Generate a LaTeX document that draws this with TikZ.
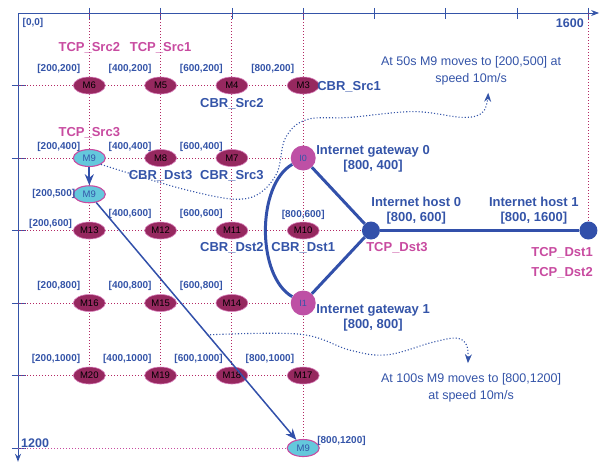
\documentclass[tikz,border=0pt]{standalone}
\usepackage{fontspec}
\setmainfont{Liberation Sans}
\usetikzlibrary{shapes.geometric,arrows.meta}
\begin{document}
\begin{tikzpicture}[>={Stealth[length=8pt, width=6pt]}, x=0.3565pt, y=-0.3625pt,
		mnode/.style={ellipse, fill=plum, draw=tcppink!70, line width=0.6pt, minimum width=32pt, minimum height=17pt, inner sep=0pt, font=\fontsize{9.5}{10}\selectfont},
		mobile/.style={mnode, fill=mobcyan, draw=tcppink, line width=1.1pt, text=axisblue},
		gateway/.style={circle, fill=gwpink, minimum size=25pt, inner sep=0pt, text=axisblue, font=\fontsize{9}{10}\selectfont},
		host/.style={circle, fill=linkblue, minimum size=18pt, inner sep=0pt},
		coordtxt/.style={text=axisblue, font=\bfseries\fontsize{10}{11}\selectfont, inner sep=0pt},
		cbrtxt/.style={text=axisblue, font=\bfseries\fontsize{13}{14}\selectfont, inner sep=0pt},
		tcptxt/.style={cbrtxt, text=tcppink},
		infotxt/.style={cbrtxt, align=center},
		msgtxt/.style={text=axisblue, font=\fontsize{12.5}{17}\selectfont, align=center, inner sep=0pt},
		gridline/.style={gridred, dotted, line width=1pt},
		msgpath/.style={axisblue, dotted, line width=1.1pt, -{Stealth[length=9pt, width=7pt]}},
		moveline/.style={linkblue, -{Stealth[length=11pt, width=9pt]}},
		link/.style={linkblue, line width=3pt}]
	\definecolor{axisblue}{RGB}{52, 84, 168}
	\definecolor{linkblue}{RGB}{50, 80, 170}
	\definecolor{plum}{RGB}{150, 40, 95}
	\definecolor{gridred}{RGB}{180, 40, 100}
	\definecolor{tcppink}{RGB}{200, 75, 160}
	\definecolor{gwpink}{RGB}{190, 80, 165}
	\definecolor{mobcyan}{RGB}{100, 200, 220}
	\useasboundingbox (-50.5,-35.9) rectangle (1632.5,1244);
	% axes
	\draw[->, axisblue, line width=1pt] (0,0) -- (1630,0);
	\draw[->, axisblue, line width=1pt] (0,0) -- (0,1238);
	\foreach \t in {200,400,...,1600} \draw[axisblue, line width=0.8pt] (\t,-14) -- (\t,17);
	\foreach \t in {200,400,...,1200} \draw[axisblue, line width=0.8pt] (-17,\t) -- (22,\t);
	\node[coordtxt] (origin) at (42,28) {[0,0]};
	\node[coordtxt, font=\bfseries\fontsize{12.5}{13}\selectfont] (xmax) at (1548,28) {1600};
	\node[coordtxt, font=\bfseries\fontsize{12.5}{13}\selectfont] (ymax) at (48,1186) {1200};
	% grid
	\foreach \r in {200,400,600,800,1000} \draw[gridline] (0,\r) -- (800,\r);
	\draw[gridline] (800,600) -- (990,600);
	\draw[gridline, tcppink] (0,1200) -- (800,1200);
	\foreach \c in {200,400,600} \draw[gridline] (\c,0) -- (\c,1000);
	\draw[gridline] (800,0) -- (800,1200);
	\draw[gridline] (1600,0) -- (1600,600);
	% mobile nodes
	\foreach \n/\x/\y in {6/200/200, 5/400/200, 4/600/200, 3/800/200, 8/400/400, 7/600/400,
		13/200/600, 12/400/600, 11/600/600, 10/800/600, 16/200/800, 15/400/800, 14/600/800,
		20/200/1000, 19/400/1000, 18/600/1000, 17/800/1000}
		\node[mnode] (m\n) at (\x,\y) {M\n};
	\node[mobile] (m9a) at (200,400) {M9};
	\node[mobile] (m9b) at (200,500) {M9};
	\node[mobile] (m9c) at (800,1200) {M9};
	\node[gateway] (i0) at (800,400) {I0};
	\node[gateway] (i1) at (800,800) {I1};
	\node[host] (h0) at (990,600) {};
	\node[host] (h1) at (1600,600) {};
	% position labels
	\foreach \x/\y in {200/200, 400/200, 600/200, 800/200, 400/600, 600/600,
		200/800, 400/800, 600/800, 200/1000, 400/1000, 600/1000, 800/1000}
		\node[coordtxt, anchor=east] (p\x-\y) at (\x-25,\y-47) {[\x,\y]};
	\foreach \x in {200,400,600} \node[coordtxt, anchor=east] (p\x-400) at (\x-25,370) {[\x,400]};
	\node[coordtxt, anchor=east] (p200-500) at (161,500) {[200,500]};
	\node[coordtxt, anchor=east] (p200-600) at (152,583) {[200,600]};
	\node[coordtxt] (p800-600) at (800,556) {[800,600]};
	\node[coordtxt, anchor=west] (p800-1200) at (839,1181) {[800,1200]};
	% traffic roles
	\node[tcptxt] (tsrc2) at (200,97) {TCP\_Src2};
	\node[tcptxt] (tsrc1) at (400,97) {TCP\_Src1};
	\node[tcptxt] (tsrc3) at (200,331) {TCP\_Src3};
	\node[cbrtxt] (csrc2) at (600,251) {CBR\_Src2};
	\node[cbrtxt, anchor=west] (csrc1) at (839,204) {CBR\_Src1};
	\node[cbrtxt] (cdst3) at (400,450) {CBR\_Dst3};
	\node[cbrtxt] (csrc3) at (600,450) {CBR\_Src3};
	\node[cbrtxt] (cdst2) at (600,648) {CBR\_Dst2};
	\node[cbrtxt] (cdst1) at (800,648) {CBR\_Dst1};
	\node[tcptxt] (tdst3) at (1063,648) {TCP\_Dst3};
	\node[tcptxt] (tdst1) at (1526,662) {TCP\_Dst1};
	\node[tcptxt] (tdst2) at (1526,717) {TCP\_Dst2};
	\node[infotxt] (gw0txt) at (996,403) {Internet gateway 0\\[1pt][800, 400]};
	\node[infotxt] (gw1txt) at (996,841) {Internet gateway 1\\[1pt][800, 800]};
	\node[infotxt] (h0txt) at (1117,546) {Internet host 0\\[1pt][800, 600]};
	\node[infotxt] (h1txt) at (1447,546) {Internet host 1\\[1pt][800, 1600]};
	\node[msgtxt] (msg1) at (1271,159) {At 50s M9 moves to [200,500] at\\speed 10m/s};
	\node[msgtxt] (msg2) at (1271,1034) {At 100s M9 moves to [800,1200]\\at speed 10m/s};
	% wired links
	\draw[link] (i0) -- (h0);
	\draw[link] (i1) -- (h0);
	\draw[link] (h0) -- (h1);
	\draw[link] (i0) to[out=210, in=150, looseness=0.8] (i1);
	% movements
	\draw[moveline, line width=2pt] (m9a) -- (m9b);
	\draw[moveline, line width=1.5pt] (m9b) -- (m9c);
	\coordinate (c1end) at (1319,220);
	\coordinate (c2start) at (530,888);
	\coordinate (c2end) at (1262,966);
	\draw[msgpath] plot[smooth, tension=0.6] coordinates {(m9a.south east) (480,490) (640,512) (722,450) (750,345) (810,294) (930,288) (1110,272) (1250,288) (1305,272) (c1end)};
	\draw[msgpath] plot[smooth, tension=0.6] coordinates {(c2start) (791,886) (931,930) (1035,943) (1164,908) (1231,897) (1259,918) (c2end)};
\end{tikzpicture}
\end{document}
